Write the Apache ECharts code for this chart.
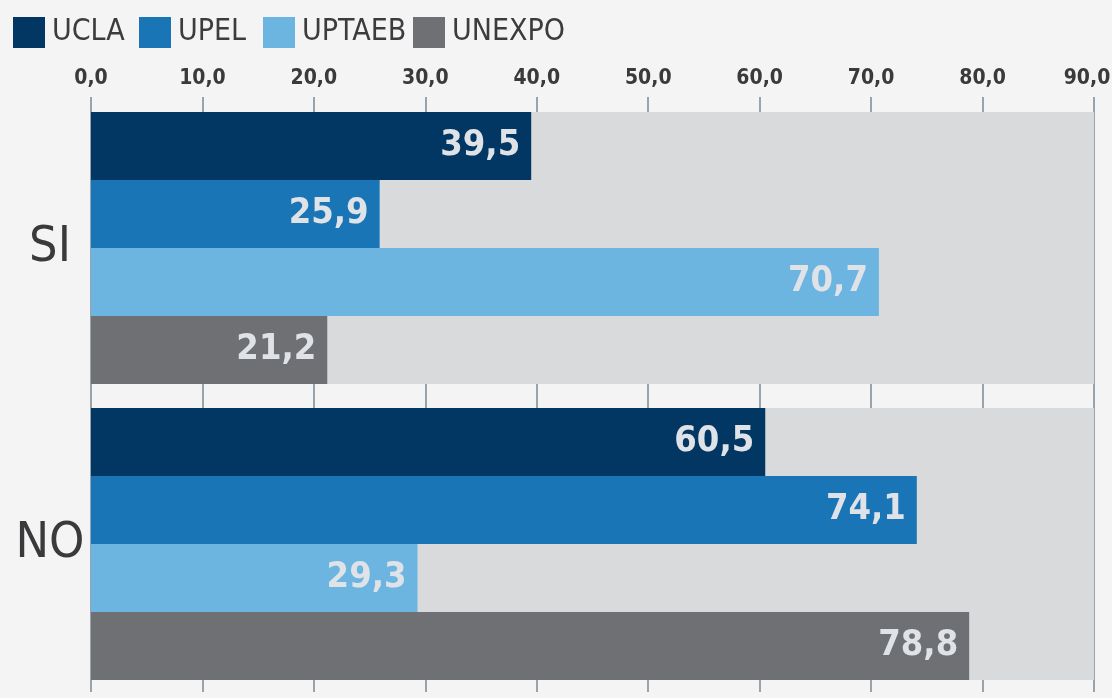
<!DOCTYPE html>
<html>
<head>
<meta charset="utf-8">
<script src="https://cdn.jsdelivr.net/npm/echarts@6/dist/echarts.min.js"></script>
<style>
  html, body { margin: 0; padding: 0; background: #f4f4f4; }
  #chart { width: 1112px; height: 698px; }
</style>
</head>
<body>
<div id="chart"></div>
<script>
// datos
const categorias = ['SI', 'NO'];
const universidades = ['UCLA', 'UPEL', 'UPTAEB', 'UNEXPO'];
const ucla = [39.5, 60.5];
const upel = [25.9, 74.1];
const uptaeb = [70.7, 29.3];
const unexpo = [21.2, 78.8];
const fondo = [90, 90];
const colores = ['#023764', '#1a75b6', '#6cb5e1', '#6f7073'];

const fuente = '"DejaVu Sans Condensed", "Liberation Sans Narrow", sans-serif';
const coma = v => Number(v).toFixed(1).replace('.', ',');

const chart = echarts.init(document.getElementById('chart'));

const legendLeft = [13, 139, 263, 413];
const legends = universidades.map((u, i) => ({
  data: [u],
  left: legendLeft[i],
  top: 17,
  padding: 0,
  icon: 'rect',
  itemWidth: 32,
  itemHeight: 31,
  selectedMode: false,
  textStyle: { fontFamily: fuente, fontSize: 30, color: '#3c3c3e', padding: [0, 0, 0, 2] }
}));

const valores = [ucla, upel, uptaeb, unexpo];

const series = [{
  type: 'bar',
  yAxisIndex: 1,
  data: fondo,
  barCategoryGap: '8.1%',
  silent: true,
  itemStyle: { color: '#d9dadc' }
}];
universidades.forEach((u, i) => {
  series.push({
    name: u,
    type: 'bar',
    data: valores[i],
    barGap: 0,
    barCategoryGap: '8.1%',
    itemStyle: { color: colores[i] },
    label: {
      show: true,
      position: 'insideRight',
      distance: 11,
      formatter: p => coma(p.value),
      fontFamily: fuente,
      fontWeight: 'bold',
      fontSize: 36,
      color: '#dfe3e8'
    }
  });
});

const estiloEje = { fontFamily: fuente, fontWeight: 'bold', fontSize: 21, color: '#3a3a3c' };

const option = {
  backgroundColor: '#f4f4f4',
  animation: false,
  legend: legends,
  grid: { left: 91, right: 18, top: 100, bottom: 6, containLabel: false, outerBoundsMode: 'none' },
  xAxis: {
    type: 'value',
    position: 'top',
    min: 0,
    max: 90,
    interval: 10,
    axisLine: { show: false },
    axisTick: { show: true, length: 3, lineStyle: { color: '#99a3ab', width: 2 } },
    splitLine: { show: true, lineStyle: { color: '#99a3ab', width: 2 } },
    axisLabel: Object.assign({
      margin: 11,
      // el ultimo rotulo un poco a la izquierda para que no se corte
      formatter: v => v === 90 ? '{m|' + coma(v) + '}' : coma(v),
      rich: { m: Object.assign({ padding: [0, 14, 0, 0] }, estiloEje) }
    }, estiloEje)
  },
  yAxis: [{
    type: 'category',
    data: categorias,
    inverse: true,
    axisLine: { show: false },
    axisTick: { show: false },
    axisLabel: {
      margin: 41,
      align: 'center',
      fontFamily: fuente,
      fontSize: 50,
      color: '#3a3a3c'
    }
  }, {
    type: 'category',
    data: categorias,
    inverse: true,
    show: false
  }],
  series: series
};

chart.setOption(option);
</script>
</body>
</html>
